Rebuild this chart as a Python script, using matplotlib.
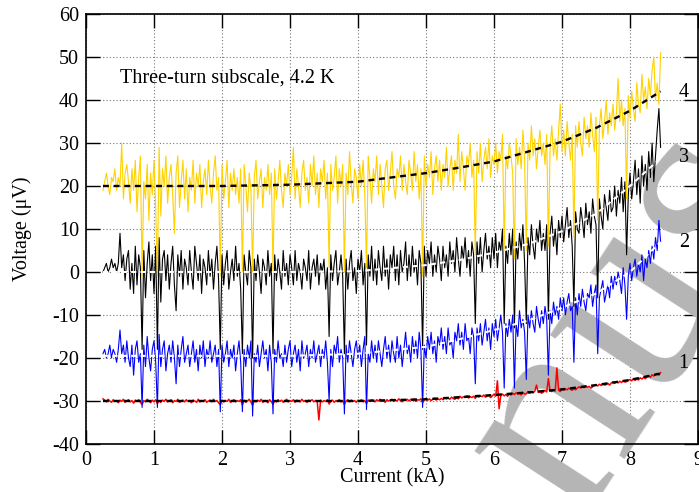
import numpy as np
import matplotlib
matplotlib.use('Agg')
import matplotlib.pyplot as plt

plt.rcParams['font.family'] = ['Liberation Serif', 'DejaVu Serif']
plt.rcParams['axes.unicode_minus'] = False

# ---------------- data ----------------
# samples every 0.025 kA from 0.25 to 8.45 kA
x_start, x_end = 0.25, 8.45

trace4 = [19, 21, 23, 20, 18, 22, 21, 24, 19, 22,
          20, 30, 17, 23, 25, 21, 16, 24, 19, 26,
          14, 22, 27, -1, 21, 17, 25, 12, 23, 18,
          26, 15, -1, 29, 13, 24, 20, 27, 16, 22,
          25, 18, 9, 23, 27, 15, 21, 26, 17, 24,
          14, 22, 19, 26, 16, 23, 20, 25, 15, 21,
          24, 18, 26, 20, 16, 23, 27, 19, 22, -1,
          25, 17, 21, 26, 15, 23, 19, 24, 18, 22,
          16, 24, 0, 25, 20, 14, 23, 19, 0, 22,
          26, 17, 21, 24, 15, 22, 19, 25, 18, 23,
          0, 24, 17, 21, 26, 19, 15, 23, 20, 25,
          18, 22, 29, 17, 24, 20, 15, 23, 26, 19,
          22, 16, 25, 20, 27, 18, 23, 15, 24, 21,
          26, 17, 23, 1, 25, 19, 22, 27, 16, 24,
          20, 25, 0, 23, 18, 28, 21, 16, 24, 22,
          17, 25, 20, 26, 18, 1, 27, 22, 16, 24,
          21, 27, 18, 25, 20, 15, 24, 26, 19, 23,
          28, 20, 17, 24, 22, 27, 19, 25, 21, 18,
          26, 23, 19, 28, 21, 25, 17, 24, -1, 27,
          20, 25, 22, 28, 18, 24, 27, 21, 26, 19,
          25, 22, 29, 20, 24, 27, 19, 26, 23, 32,
          21, 28, 24, 19, 27, 25, 30, 22, 26, 4,
          28, 23, 30, 21, 26, 29, 24, 31, 22, 27,
          25, 30, 23, 28, 26, 32, 5, 27, 24, 30,
          27, 23, 3, 31, 25, 29, 24, 33, 26, 5,
          30, 26, 34, 27, 31, 24, 29, 33, 27, 30,
          25, 32, 6, 29, 34, 27, 31, 26, 33, 39,
          28, 33, 27, 35, 30, 26, 32, 8, 34, 29,
          35, 30, 27, 36, 31, 34, 29, 37, 32, 28,
          36, 12, 34, 38, 31, 35, 40, 32, 37, 34,
          39, 33, 37, 45, 35, 40, 34, 38, 17, 41,
          36, 42, 38, 35, 44, 39, 37, 46, 40, 43,
          38, 45, 41, 47, 50, 40, 44, 39, 51]

trace3 = [0, 1, 2, 0, 1, 3, 1, 2, 0, 2,
          9, 1, 4, -2, 3, 5, -4, 2, -5, 6,
          -3, 4, 1, -18, 5, -6, 2, 7, -2, 4,
          -5, 6, -18, 8, -7, 3, 5, -2, 4, -4,
          2, 6, -3, -9, 4, -1, 5, -4, 3, 1,
          -3, 5, 0, -4, 6, 2, -2, 4, -5, 3,
          1, -3, 5, -1, 3, -4, 2, 6, -2, -18,
          4, -3, 2, 5, -4, 0, 3, -2, 6, -1,
          2, -4, -19, 4, 0, -3, 5, 1, -20, 3,
          -2, 4, 0, -5, 3, 1, -3, 5, -1, 2,
          -19, 4, -2, 3, 0, -4, 5, -1, 2, -3,
          4, 1, -3, 5, -2, 2, 0, -4, 3, 1,
          -2, 5, -4, 1, 3, -1, 4, -3, 2, 0,
          3, -4, 1, -15, 4, -2, 2, 5, -3, 0,
          4, -1, -19, 3, -4, 2, 5, -2, 1, -5,
          3, 0, 5, -3, 2, -17, 4, -1, 6, -2,
          3, -3, 5, 1, -2, 6, -1, 3, -4, 4,
          1, 6, -2, 4, -3, 5, 0, 2, 7, -2,
          4, -1, 6, 0, 3, -3, 5, 2, -18, 6,
          -1, 5, 2, 7, -1, 4, 0, 6, 3, -2,
          6, 1, 4, -1, 7, 2, 5, 0, 8, 3,
          -1, 6, 3, 8, 1, 5, -1, 7, 4, -12,
          7, 2, 8, 0, 5, 9, 3, 6, 1, 8,
          3, 9, 1, 7, 5, 10, -12, 6, 2, 9,
          4, 10, -13, 7, 3, 9, 5, 11, 2, -12,
          8, 4, 11, 6, 3, 10, 7, 12, 5, 9,
          5, 11, -11, 9, 13, 6, 10, 4, 12, 8,
          13, 7, 11, 15, 8, 12, 6, -8, 14, 10,
          9, 15, 12, 8, 16, 11, 14, 9, 17, 13,
          11, -6, 17, 13, 10, 18, 15, 12, 19, 14,
          15, 20, 13, 19, 16, 22, 14, 21, 4, 18,
          23, 17, 21, 26, 18, 24, 16, 27, 20, 25,
          19, 28, 22, 30, 21, 27, 33, 38, 29]

trace2 = [-19, -18, -20, -19, -17, -20, -18, -19, -21, -18,
          -13.5, -19, -17, -21, -16, -20, -22, -17, -24, -18,
          -16, -21, -19, -31.5, -17, -22, -15, -20, -23, -18,
          -16, -21, -31.5, -14.5, -22, -18, -16, -23, -19, -17,
          -21, -16, -20, -26, -17, -22, -18, -15, -21, -19,
          -17, -22, -19, -16, -21, -18, -23, -17, -20, -16,
          -22, -18, -20, -16, -21, -19, -17, -22, -18, -32.5,
          -17, -21, -19, -16, -22, -18, -20, -17, -23, -19,
          -16, -21, -32.5, -18, -22, -17, -20, -16, -33.5, -19,
          -21, -17, -22, -19, -16, -20, -18, -23, -17, -21,
          -33, -18, -21, -16, -20, -19, -22, -17, -21, -18,
          -16, -22, -19, -17, -21, -18, -23, -16, -20, -19,
          -17, -22, -18, -20, -16, -21, -19, -17, -22, -18,
          -20, -16, -21, -30, -18, -22, -17, -19, -15, -21,
          -18, -20, -33, -17, -21, -16, -19, -22, -18, -16,
          -20, -17, -22, -18, -15, -32, -19, -21, -16, -20,
          -17, -21, -16, -19, -22, -18, -15, -20, -17, -21,
          -16, -19, -21, -15, -20, -17, -22, -18, -14, -19,
          -17, -21, -15, -19, -16, -20, -14, -18, -31.5, -17,
          -20, -15, -18, -14, -19, -16, -21, -15, -17, -13,
          -18, -15, -19, -13, -17, -16, -20, -14, -16, -12,
          -17, -14, -18, -12, -16, -15, -19, -13, -15, -26,
          -13, -16, -12, -17, -14, -11, -16, -13, -18, -12,
          -15, -11, -16, -13, -10, -14, -27, -12, -15, -11,
          -14, -10, -27, -12, -15, -9, -13, -11, -14, -25,
          -10, -13, -9, -12, -14, -8, -11, -13, -9, -12,
          -8, -11, -24, -9, -12, -7, -10, -8, -11, -6,
          -9, -6, -10, -7, -5, -9, -8, -21, -6, -10,
          -5, -8, -4, -7, -9, -5, -6, -3, -8, -5,
          -3, -19, -6, -4, -2, -7, -5, -3, -6, -1,
          -4, -1, -3, 0, -2, -5, 1, -3, -11, -1,
          2, -2, 1, 3, -1, 2, 0, 4, -2, 3,
          1, 5, 2, 6, 3, 8, 5, 12, 7]

trace1 = [-29.5, -29.8, -30.2, -29.6, -30.0, -30.3, -29.7, -30.1, -29.9, -30.4,
          -29.8, -30.1, -29.6, -30.3, -30.0, -29.7, -30.2, -29.9, -30.5, -29.8,
          -30.1, -29.7, -30.3, -30.8, -29.9, -30.2, -29.6, -30.0, -30.4, -29.8,
          -30.2, -29.7, -30.6, -29.9, -30.3, -29.8, -30.1, -29.6, -30.2, -30.0,
          -29.7, -30.4, -29.9, -30.1, -29.6, -30.3, -30.0, -29.8, -30.2, -29.7,
          -30.1, -29.9, -30.4, -29.8, -30.0, -30.3, -29.6, -30.2, -29.9, -30.1,
          -29.7, -30.3, -30.0, -29.8, -30.2, -29.6, -30.1, -29.9, -30.4, -30.9,
          -29.8, -30.2, -29.9, -30.1, -29.6, -30.3, -30.0, -29.7, -30.2, -29.9,
          -30.1, -29.7, -30.9, -29.8, -30.3, -30.0, -29.6, -30.2, -31.0, -29.9,
          -30.2, -29.8, -30.1, -29.6, -30.3, -29.9, -30.0, -30.4, -29.7, -30.1,
          -30.8, -29.9, -30.2, -29.7, -30.1, -29.8, -30.3, -30.0, -29.6, -30.2,
          -29.9, -30.1, -29.7, -30.3, -29.8, -30.0, -30.2, -29.6, -30.1, -29.9,
          -30.3, -29.8, -30.0, -29.7, -30.2, -29.9, -30.1, -34.4, -29.8, -30.2,
          -29.9, -30.1, -29.7, -30.7, -30.0, -29.8, -30.3, -29.9, -30.1, -29.7,
          -30.2, -29.9, -30.8, -30.0, -29.7, -30.2, -29.8, -30.1, -29.9, -30.3,
          -29.8, -30.1, -29.7, -30.2, -29.9, -30.6, -29.8, -30.1, -29.7, -30.0,
          -30.2, -29.7, -30.0, -29.6, -30.1, -29.9, -30.3, -29.7, -30.0, -29.8,
          -29.6, -30.1, -29.8, -30.0, -29.5, -29.9, -30.2, -29.7, -29.9, -29.6,
          -30.0, -29.6, -29.9, -29.5, -30.1, -29.7, -29.8, -29.5, -30.4, -29.7,
          -29.4, -29.8, -29.5, -29.9, -29.6, -29.3, -29.8, -29.5, -29.7, -29.4,
          -29.7, -29.2, -29.5, -29.3, -29.6, -29.1, -29.4, -29.6, -29.2, -29.5,
          -28.9, -29.3, -29.0, -29.2, -28.8, -29.3, -29.0, -29.2, -28.9, -29.4,
          -28.7, -29.1, -28.8, -29.0, -28.6, -29.1, -28.9, -28.7, -29.2, -28.8,
          -28.4, -28.9, -25.3, -31.8, -28.7, -28.4, -28.8, -28.5, -28.9, -28.4,
          -28.6, -28.2, -28.5, -28.1, -28.4, -28.2, -28.6, -28.0, -28.4, -28.3,
          -27.8, -28.2, -27.9, -28.1, -27.7, -26.3, -28.0, -27.8, -28.2, -27.9,
          -27.5, -27.9, -24.8, -27.6, -27.8, -27.4, -27.7, -22.3, -27.5, -27.8,
          -27.1, -27.5, -27.2, -27.4, -27.0, -27.3, -27.5, -27.1, -27.4, -27.0,
          -26.7, -27.0, -26.6, -26.9, -26.5, -26.8, -26.6, -27.0, -26.7, -26.4,
          -26.2, -26.5, -26.1, -26.4, -26.0, -26.3, -26.2, -25.9, -26.3, -25.8,
          -25.6, -25.9, -25.5, -25.8, -25.4, -25.7, -25.3, -25.6, -25.5, -25.2,
          -25.0, -25.3, -24.8, -25.2, -24.9, -25.1, -24.6, -24.9, -24.5, -24.8,
          -24.4, -24.1, -24.5, -23.9, -24.2, -23.8, -23.6, -24.0, -23.4]

# fitted (dashed) curves
fit_x = [0.25, 1, 2, 3, 4, 5, 5.5, 6, 6.5, 7, 7.5, 8, 8.45]
fit4 = [20, 20, 20, 20.3, 21, 23, 24.3, 25.7, 28, 30.3, 33.5, 37.5, 42]
fit3 = [0, 0, 0, 0, 0.2, 1.6, 2.8, 4.5, 6.5, 9.5, 13.5, 20, 26.5]
fit2 = [-19.5, -19.5, -19.5, -19.5, -19, -17.4, -15.6, -13.5, -11.3, -8.3, -5, 0, 7]
fit1 = [-30, -30, -30, -30, -30, -29.6, -29.1, -28.6, -28, -27.3, -26.3, -25.1, -23.6]

curve_labels = ['1', '2', '3', '4']
curve_label_y = [-21.3, 6.8, 26.7, 41.7]

x_ticks = list(range(0, 10))
y_ticks = list(range(-40, 61, 10))

# ---------------- figure ----------------
W, H = 699, 492
fig = plt.figure(figsize=(W / 100, H / 100), dpi=100)
ax = fig.add_axes([86 / W, 48 / H, 612 / W, 430 / H])

n = len(trace4)
x = np.linspace(x_start, x_end, n)

lw = 0.8
ax.plot(np.linspace(x_start, x_end, len(trace1)), trace1, color='#ff0000', lw=1.1, zorder=3)
ax.plot(np.linspace(x_start, x_end, len(trace2)), trace2, color='#0000ff', lw=lw, zorder=4)
ax.plot(np.linspace(x_start, x_end, len(trace3)), trace3, color='#000000', lw=lw, zorder=5)
ax.plot(x, trace4, color='#ffd200', lw=lw, zorder=6)

dash = (2.5, 2.0)
ax.plot(fit_x, fit1, color='black', lw=1.7, dashes=dash, zorder=7)
ax.plot(fit_x, fit2, color='white', lw=1.5, dashes=dash, zorder=7)
ax.plot(fit_x, fit3, color='white', lw=1.5, dashes=dash, zorder=7)
ax.plot(fit_x, fit4, color='black', lw=1.7, dashes=dash, zorder=7)

ax.set_xlim(0, 9)
ax.set_ylim(-40, 60)
ax.set_xticks(x_ticks)
ax.set_yticks(y_ticks)
ax.grid(True, linestyle=(0, (1, 2)), color='#777777', linewidth=0.8)
ax.tick_params(direction='in', length=10, width=1, top=True, right=True,
               labelsize=14.5, pad=5)
for s in ax.spines.values():
    s.set_linewidth(1.2)

ax.text(0.5, 45.2, 'Three-turn subscale, 4.2 K', fontsize=14.5, va='center', ha='left', zorder=10)
for lab, yy in zip(curve_labels, curve_label_y):
    ax.text(8.79, yy, lab, fontsize=14.5, ha='center', va='center', zorder=10)

fig.text(392 / W, 1 - 478 / H, 'Current (kA)', ha='center', va='center', fontsize=14.5)
fig.text(22 / W, 1 - 229 / H, 'Voltage (μV)', ha='center', va='center', rotation=90, fontsize=14.5)

# watermark
ax.text(578 / W, 1 - 522 / H, 'nus', transform=fig.transFigure, rotation=57,
        rotation_mode='anchor', ha='left', va='baseline', fontsize=205,
        color='#b5b5b5', zorder=1.8, clip_on=False)

fig.savefig('out.png', dpi=100)
